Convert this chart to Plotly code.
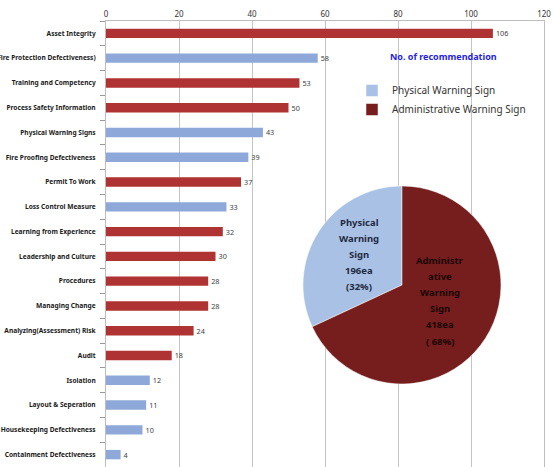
import plotly.graph_objects as go

categories = ["Asset Integrity", "(Fire Protection Defectiveness)", "Training and Competency",
              "Process Safety Information", "Physical Warning Signs", "Fire Proofing Defectiveness",
              "Permit To Work", "Loss Control Measure", "Learning from Experience",
              "Leadership and Culture", "Procedures", "Managing Change",
              "Analyzing(Assessment) Risk", "Audit", "Isolation", "Layout & Seperation",
              "Housekeeping Defectiveness", "Containment Defectiveness"]
counts = [106, 58, 53, 50, 43, 39, 37, 33, 32, 30, 28, 28, 24, 18, 12, 11, 10, 4]
sign_type = ["A", "P", "A", "A", "P", "P", "A", "P", "A", "A", "A", "A", "A", "A", "P", "P", "P", "P"]

pie_labels = ["Physical Warning Sign", "Administrative Warning Sign"]
pie_values = [196, 418]

x_ticks = [0, 20, 40, 60, 80, 100, 120]

BAR_RED = "#B03333"
BAR_BLUE = "#8EA9D9"
PIE_BLUE = "#A9C1E5"
PIE_RED = "#761D1D"

W, H = 553, 467
L, R, T, B = 106, 9, 21, 0
pw, ph = W - L - R, H - T - B


def px(x):
    return (x - L) / pw


def py(y):
    return (H - B - y) / ph


bar_colors = [BAR_RED if t == "A" else BAR_BLUE for t in sign_type]

fig = go.Figure()
fig.add_trace(go.Bar(
    y=categories, x=counts, orientation="h", width=0.38,
    marker=dict(color=bar_colors, line=dict(width=0)),
    text=[str(c) for c in counts], textposition="outside", cliponaxis=False,
    textfont=dict(size=8.5, color="#404040", family="Noto Sans"),
    showlegend=False, hoverinfo="x+y",
))

total = sum(pie_values)
# first slice (Physical) ends at 12 o'clock, drawn on the left side
start_rot = -360.0 * pie_values[0] / total
fig.add_trace(go.Pie(
    labels=pie_labels, values=pie_values, sort=False, direction="clockwise",
    rotation=start_rot, marker=dict(colors=[PIE_BLUE, PIE_RED], line=dict(color="white", width=0.5)),
    textinfo="none", hoverinfo="label+value+percent",
    domain=dict(x=[px(303), px(501)], y=[py(384), py(186)]),
    showlegend=True,
))

# pie labels (text derived from data)
pcts = [round(v / total * 100) for v in pie_values]
phys_lines = ["Physical", "Warning", "Sign", f"{pie_values[0]}ea", f"({pcts[0]}%)"]
admin_lines = ["Administr", "ative", "Warning", "Sign", f"{pie_values[1]}ea", f"( {pcts[1]}%)"]
annotations = []
for i, s in enumerate(phys_lines):
    annotations.append(dict(x=px(359), y=py(222 + i * 16.2), xref="paper", yref="paper",
                            xanchor="center", yanchor="middle",
                            text=f"<b>{s}</b>", showarrow=False,
                            font=dict(size=9.5, color="#1F2A40", family="Noto Sans")))
for i, s in enumerate(admin_lines):
    annotations.append(dict(x=px(440), y=py(260 + i * 16.2), xref="paper", yref="paper",
                            xanchor="center", yanchor="middle",
                            text=f"<b>{s}</b>", showarrow=False,
                            font=dict(size=9.5, color="#1A0606", family="Noto Sans")))
annotations.append(dict(x=px(443), y=py(56), xref="paper", yref="paper",
                        xanchor="center", yanchor="middle",
                        text="<b>No. of recommendation</b>", showarrow=False,
                        font=dict(size=9, color="#2323E0", family="Noto Sans")))

fig.update_layout(
    width=W, height=H,
    margin=dict(l=L, r=R, t=T, b=B, autoexpand=False),
    paper_bgcolor="white", plot_bgcolor="white",
    font=dict(family="Noto Sans", color="#222222"),
    xaxis=dict(side="top", range=[0, 120], tickvals=x_ticks, ticktext=[str(v) for v in x_ticks],
               showgrid=True, gridcolor="#C4C4C4", gridwidth=1, zeroline=False,
               showline=True, linecolor="#BDBDBD", linewidth=1, ticks="",
               tickfont=dict(size=8, color="#333333"), fixedrange=True),
    yaxis=dict(autorange="reversed", showgrid=False, zeroline=False,
               showline=True, mirror=True, linecolor="#BDBDBD", linewidth=1,
               ticks="outside", tickson="boundaries", ticklen=5, tickcolor="#999999",
               ticklabelstandoff=8,
               tickfont=dict(size=6.6, color="#1A1A1A", family="Noto Sans"),
               automargin=False, fixedrange=True),
    legend=dict(x=px(352), y=py(76), xanchor="left", yanchor="top",
                bgcolor="rgba(0,0,0,0)", font=dict(size=10, color="#333333", family="Noto Sans"),
                itemclick=False, itemdoubleclick=False, tracegroupgap=2),
    annotations=annotations,
)

# bold y tick labels
fig.update_yaxes(ticktext=[f"<b>{c}</b>" for c in categories], tickvals=categories)

fig.write_html("out.html")
